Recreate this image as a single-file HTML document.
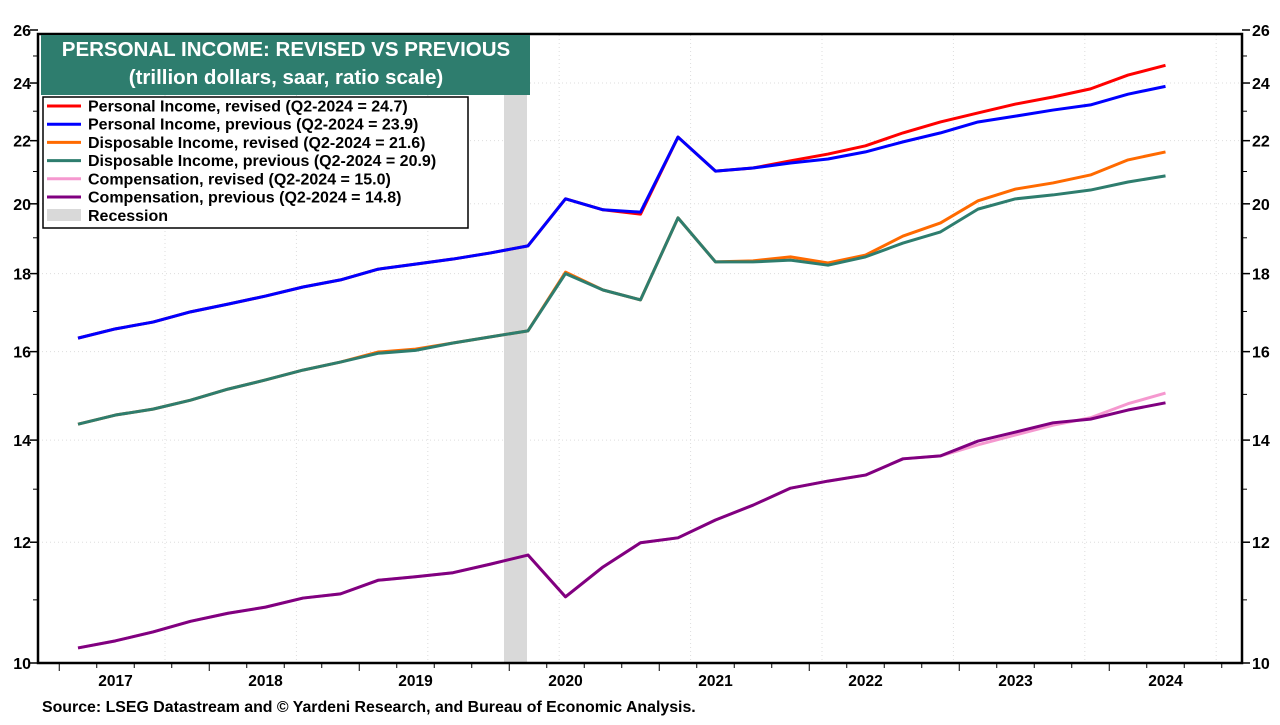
<!DOCTYPE html>
<html><head><meta charset="utf-8"><style>
body{margin:0;background:#fff;font-family:"Liberation Sans",Arial,sans-serif}
svg text{font-family:"Liberation Sans",Arial,sans-serif;font-weight:bold}
</style></head><body>
<svg id="chart" width="1280" height="720" viewBox="0 0 1280 720">
<rect x="0" y="0" width="1280" height="720" fill="#fff"/>
<g id="grid"></g>
<rect x="504" y="35" width="23" height="627" fill="#d9d9d9"/>
<g id="series"></g>
<rect x="38" y="34" width="1204" height="629" fill="none" stroke="#000" stroke-width="2.5"/>
<g id="axes"></g>
<g>
<rect x="41" y="35" width="489" height="60" fill="#2e7d6e"/>
<text x="286" y="56" text-anchor="middle" fill="#fff" font-size="20.5">PERSONAL INCOME: REVISED VS PREVIOUS</text>
<text x="286" y="84" text-anchor="middle" fill="#fff" font-size="20.5">(trillion dollars, saar, ratio scale)</text>
</g>
<g>
<rect x="43" y="97" width="425" height="131" fill="#fff" stroke="#000" stroke-width="1.5"/>
<g id="legend-items"></g>
</g>
<text x="42" y="712" font-size="15.9">Source: LSEG Datastream and © Yardeni Research, and Bureau of Economic Analysis.</text>
</svg>
<script>
const years=["2017","2018","2019","2020","2021","2022","2023","2024"];
const yTicks=[10,12,14,16,18,20,22,24,26];
const piRev=[16.33,16.56,16.73,16.99,17.19,17.40,17.64,17.83,18.12,18.26,18.40,18.57,18.77,20.15,19.82,19.69,22.12,21.01,21.11,21.34,21.56,21.83,22.26,22.63,22.94,23.25,23.50,23.79,24.29,24.65];
const piPrev=[16.33,16.56,16.73,16.99,17.19,17.40,17.64,17.83,18.12,18.26,18.40,18.57,18.77,20.15,19.82,19.75,22.12,21.01,21.11,21.27,21.40,21.63,21.96,22.26,22.63,22.83,23.04,23.22,23.60,23.88];
const diRev=[14.34,14.54,14.67,14.87,15.12,15.33,15.56,15.75,15.99,16.06,16.21,16.36,16.51,18.04,17.56,17.30,19.58,18.32,18.35,18.46,18.29,18.51,19.05,19.43,20.09,20.45,20.64,20.89,21.37,21.63];
const diPrev=[14.34,14.54,14.67,14.87,15.12,15.33,15.56,15.75,15.96,16.03,16.21,16.36,16.51,18.00,17.56,17.30,19.58,18.32,18.32,18.37,18.23,18.46,18.85,19.17,19.84,20.15,20.27,20.42,20.67,20.86];
const coRev=[10.23,10.34,10.48,10.65,10.78,10.88,11.03,11.10,11.33,11.39,11.46,11.61,11.77,11.05,11.56,11.99,12.08,12.41,12.69,13.02,13.16,13.28,13.61,13.67,13.90,14.11,14.32,14.48,14.79,15.03];
const coPrev=[10.23,10.34,10.48,10.65,10.78,10.88,11.03,11.10,11.33,11.39,11.46,11.61,11.77,11.05,11.56,11.99,12.08,12.41,12.69,13.02,13.16,13.28,13.61,13.67,13.98,14.17,14.37,14.45,14.65,14.81];
const legendLabels=["Personal Income, revised (Q2-2024 = 24.7)","Personal Income, previous (Q2-2024 = 23.9)","Disposable Income, revised (Q2-2024 = 21.6)","Disposable Income, previous (Q2-2024 = 20.9)","Compensation, revised (Q2-2024 = 15.0)","Compensation, previous (Q2-2024 = 14.8)"];

const NS="http://www.w3.org/2000/svg";
const X0=78,DX=37.5,YB=663,YT=30,VMIN=10,VMAX=26;
const xs=i=>X0+DX*i;
const ys=v=>YB-(YB-YT)*Math.log(v/VMIN)/Math.log(VMAX/VMIN);
function mk(tag,attrs,parent){const e=document.createElementNS(NS,tag);for(const k in attrs)e.setAttribute(k,attrs[k]);parent.appendChild(e);return e;}
const grid=document.getElementById('grid'),axes=document.getElementById('axes'),series=document.getElementById('series');
yTicks.forEach(v=>{if(v>VMIN&&v<VMAX){const l=mk('line',{x1:38,x2:1242,y1:ys(v),y2:ys(v),stroke:'#ddd','stroke-dasharray':'1 3'},grid);

}});
for(let gx=165;gx<1242;gx+=131.4){const l=mk('line',{x1:gx,x2:gx,y1:35,y2:662,stroke:'#ddd','stroke-dasharray':'1 3'},grid);

}
yTicks.forEach(v=>{const y=ys(v);
[[31,'end',30,38],[1252,'start',1242,1250]].forEach(([tx,anc,a,b],s)=>{
mk('line',{x1:a,x2:b,y1:y,y2:y,stroke:'#000','stroke-width':1.5},axes);
const t=mk('text',{x:tx,y:y+6,'text-anchor':anc,'font-size':16},axes);t.textContent=v;

});});
for(let v=11;v<26;v++){if(v%2){const y=ys(v);mk('line',{x1:33,x2:38,y1:y,y2:y,stroke:'#000'},axes);mk('line',{x1:1242,x2:1247,y1:y,y2:y,stroke:'#000'},axes);}}
for(let i=-1;i<32;i++){const x=X0+DX*i-18.75;if(x<38||x>1242)continue;mk('line',{x1:x,x2:x,y1:663,y2:(i%4==0)?671:668,stroke:'#000'},axes);}
years.forEach((yr,i)=>{const t=mk('text',{x:xs(1+4*i),y:686,'text-anchor':'middle','font-size':15.5},axes);t.textContent=yr;

});
const defs=[[coRev,'#f598cf','compensation-revised-line'],[coPrev,'#800080','compensation-previous-line'],[diRev,'#ff6a00','disposable-income-revised-line'],[diPrev,'#2e7d6e','disposable-income-previous-line'],[piRev,'#ff0000','personal-income-revised-line'],[piPrev,'#0000ff','personal-income-previous-line']];
defs.forEach(([d,c,n])=>{const p=mk('polyline',{points:d.map((v,i)=>xs(i)+','+ys(v)).join(' '),fill:'none',stroke:c,'stroke-width':3,'stroke-linejoin':'round'},series);

});
const lg=document.getElementById('legend-items');
const lc=['#ff0000','#0000ff','#ff6a00','#2e7d6e','#f598cf','#800080'];
legendLabels.forEach((s,i)=>{const y=106+i*18.2;
mk('line',{x1:47,x2:81,y1:y,y2:y,stroke:lc[i],'stroke-width':3},lg);
const t=mk('text',{x:88,y:y+5.5,'font-size':16},lg);t.textContent=s;

});
mk('rect',{x:47,y:209,width:34,height:12,fill:'#d9d9d9'},lg);
const rt=mk('text',{x:88,y:221,'font-size':16},lg);rt.textContent='Recession';


</script>
</body></html>
